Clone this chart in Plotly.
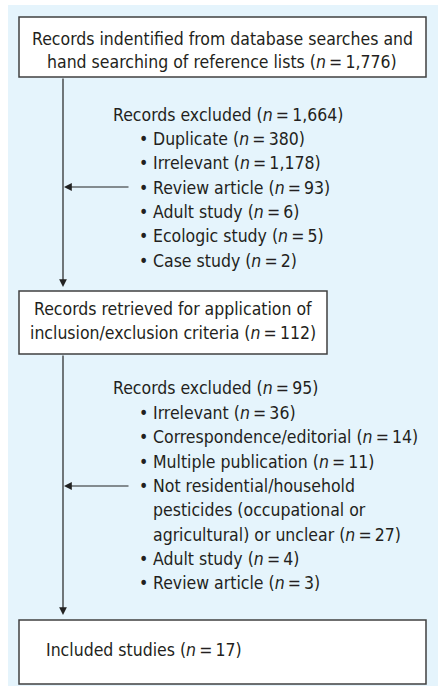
import plotly.graph_objects as go

# ---- data ----
total_identified = "1,776"
excluded1_total = "1,664"
excluded1_labels = ["Duplicate", "Irrelevant", "Review article", "Adult study", "Ecologic study", "Case study"]
excluded1_counts = ["380", "1,178", "93", "6", "5", "2"]
retrieved_total = "112"
excluded2_total = "95"
excluded2_labels = ["Irrelevant", "Correspondence/editorial", "Multiple publication",
                    "Not residential/household<br>pesticides (occupational or<br>agricultural) or unclear",
                    "Adult study", "Review article"]
excluded2_counts = ["36", "14", "11", "27", "4", "3"]
included_total = "17"

W, H = 438, 686
FONT = "Liberation Sans Narrow, DejaVu Sans Condensed, Arial Narrow, sans-serif"
TXT = "#231f20"
LINE = "#404040"
FS = 17.5

def n(v):
    return f"(<i>n</i>\u2009=\u2009{v})"

fig = go.Figure()
shapes = []
ann = []

# background panel
shapes.append(dict(type="rect", x0=8, x1=438, y0=5, y1=686, fillcolor="#e5f4fc", line=dict(width=0), layer="below"))

def box(x0, x1, y0, y1):
    shapes.append(dict(type="rect", x0=x0, x1=x1, y0=y0, y1=y1, fillcolor="white",
                       line=dict(color=LINE, width=1.5), layer="below"))

box(19, 426, 17, 77)
box(19, 327, 291, 354)
box(19, 426, 620, 684)

def text(x, y, s, anchor="left"):
    ann.append(dict(x=x, y=y, text=s, showarrow=False, xanchor=anchor, yanchor="middle",
                    font=dict(family=FONT, size=FS, color=TXT), align="left"))

# box texts
text(222, 39, "Records indentified from database searches and", "center")
text(222, 62, f"hand searching of reference lists {n(total_identified)}", "center")
text(173, 309, "Records retrieved for application of", "center")
text(173, 333, f"inclusion/exclusion criteria {n(retrieved_total)}", "center")
text(44, 650, f"Included studies {n(included_total)}")

LS = 24.3
# exclusion list 1
text(111, 115, f"Records excluded {n(excluded1_total)}")
y = 139
for lab, c in zip(excluded1_labels, excluded1_counts):
    text(137, y, "•")
    text(151, y, f"{lab} {n(c)}")
    y += LS

# exclusion list 2
text(111, 388, f"Records excluded {n(excluded2_total)}")
y = 413
for lab, c in zip(excluded2_labels, excluded2_counts):
    parts = lab.split("<br>")
    text(137, y, "•")
    for i, p in enumerate(parts):
        s = p + (f" {n(c)}" if i == len(parts) - 1 else "")
        text(151, y, s)
        y += LS

# connectors
def arrow(x0, y0, x1, y1):
    ann.append(dict(x=x1, y=y1, ax=x0, ay=y0, axref="x", ayref="y", xref="x", yref="y",
                    showarrow=True, arrowhead=2, arrowsize=1.3, arrowwidth=1.2,
                    arrowcolor="#222", standoff=0, text=""))

arrow(63, 77, 63, 287)
arrow(130, 187, 64, 187)
arrow(63, 354, 63, 615)
arrow(130, 486, 64, 486)

fig.update_layout(
    width=W, height=H, margin=dict(l=0, r=0, t=0, b=0),
    paper_bgcolor="white", plot_bgcolor="white",
    xaxis=dict(range=[0, W], visible=False, fixedrange=True),
    yaxis=dict(range=[H, 0], visible=False, fixedrange=True),
    shapes=shapes, annotations=ann, showlegend=False,
)
fig.write_html("out.html", config={"displayModeBar": False},
               post_script="document.body.style.margin='0';document.body.style.overflow='hidden';")
